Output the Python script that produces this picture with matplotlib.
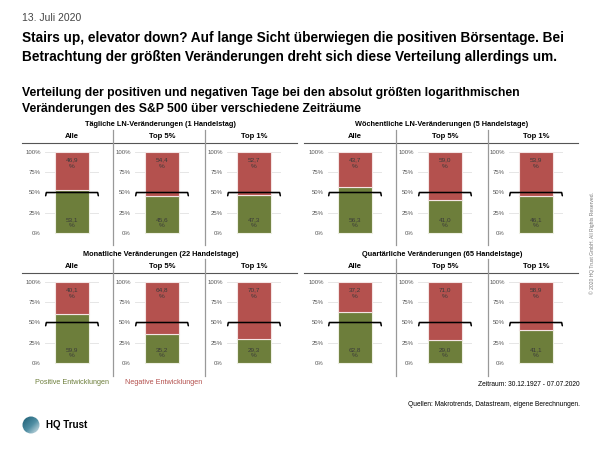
#!/usr/bin/env python3

import numpy as np
import matplotlib
matplotlib.use('Agg')
import matplotlib.pyplot as plt
from matplotlib.patches import Circle
from matplotlib.colors import LinearSegmentedColormap

plt.rcParams['font.family'] = ['Liberation Sans', 'DejaVu Sans']

groups = ['Tägliche LN-Veränderungen (1 Handelstag)',
          'Wöchentliche LN-Veränderungen (5 Handelstage)',
          'Monatliche Veränderungen (22 Handelstage)',
          'Quartärliche Veränderungen (65 Handelstage)']
columns = ['Alle', 'Top 5%', 'Top 1%']
positive = [[53.1, 45.6, 47.3],
            [56.3, 41.0, 46.1],
            [59.9, 35.2, 29.3],
            [62.8, 29.0, 41.1]]
negative = [[46.9, 54.4, 52.7],
            [43.7, 59.0, 53.9],
            [40.1, 64.8, 70.7],
            [37.2, 71.0, 58.9]]
yticks = [0, 25, 50, 75, 100]

GREEN = '#6d7e3b'
RED = '#b4514e'
W, H = 600, 450

fig = plt.figure(figsize=(6, 4.5), dpi=100)
bg = fig.add_axes([0, 0, 1, 1])
bg.set_xlim(0, W)
bg.set_ylim(H, 0)
bg.axis('off')

def fmt(v):
    return ('%.1f' % v).replace('.', ',')

# header texts
bg.text(22, 18, '13. Juli 2020', fontsize=7.5, color='#444444', va='center')
bg.text(22, 38, 'Stairs up, elevator down? Auf lange Sicht überwiegen die positiven Börsentage. Bei',
        fontsize=9.8, fontweight='bold', va='center')
bg.text(22, 57, 'Betrachtung der größten Veränderungen dreht sich diese Verteilung allerdings um.',
        fontsize=9.8, fontweight='bold', va='center')
bg.text(22, 93, 'Verteilung der positiven und negativen Tage bei den absolut größten logarithmischen',
        fontsize=8.8, fontweight='bold', va='center')
bg.text(22, 109, 'Veränderungen des S&P 500 über verschiedene Zeiträume',
        fontsize=8.8, fontweight='bold', va='center')

# panel geometry in pixels
group_left = [22, 304]
group_right = [297, 578]
col_centers = [[72, 162, 254], [355, 445, 536]]
separators = [[113, 205], [396, 488]]
row_top = [152, 282]       # pixel y of 100%
row_bottom = [233, 363]    # pixel y of 0%
title_y = [124, 254]
head_y = [137, 267]
hline_y = [143, 273]
sep_span = [(130, 245), (259, 376)]

for g, name in enumerate(groups):
    r, c = divmod(g, 2)
    bg.text((group_left[c] + group_right[c]) / 2 + 1, title_y[r], name,
            fontsize=5.3, fontweight='bold', ha='center', va='center')
    bg.plot([group_left[c], group_right[c]], [hline_y[r]] * 2, color='#555555', lw=0.8)
    for sx in separators[c]:
        bg.plot([sx, sx], sep_span[r], color='#999999', lw=0.9)
    for k, col in enumerate(columns):
        cx = col_centers[c][k]
        bg.text(cx, head_y[r], col, fontsize=5.5, fontweight='bold', ha='center', va='center')
        left = cx - 27
        ax = fig.add_axes([left / W, 1 - row_bottom[r] / H, 54 / W,
                           (row_bottom[r] - row_top[r]) / H])
        ax.set_xlim(-0.8, 0.8)
        ax.set_ylim(0, 100)
        ax.patch.set_alpha(0)
        for s in ax.spines.values():
            s.set_visible(False)
        for t in yticks[1:]:
            ax.axhline(t, color='#e6e6e6', lw=0.7, zorder=0)
        pos = positive[g][k]
        neg = negative[g][k]
        ax.bar(0, pos, width=1.0, color=GREEN, edgecolor='#eef0e4', lw=0.8,
               zorder=2, clip_on=False)
        ax.bar(0, neg, width=1.0, bottom=pos, color=RED, edgecolor='#f4e4e4',
               lw=0.8, zorder=2, clip_on=False)
        ax.text(0, 86, fmt(neg) + '\n%', fontsize=4.6, color='#3a3a3a',
                ha='center', va='center', linespacing=1.3, zorder=3)
        ax.text(0, 13, fmt(pos) + '\n%', fontsize=4.6, color='#3a3a3a',
                ha='center', va='center', linespacing=1.3, zorder=3)
        # bracket at 50 %
        ax.plot([-0.78, -0.76, 0.76, 0.78], [46, 50, 50, 46], color='black',
                lw=1.1, zorder=4, clip_on=False, solid_capstyle='round')
        ax.set_xticks([])
        ax.set_yticks(yticks)
        ax.set_yticklabels(['%d%%' % t for t in yticks], fontsize=4.3, color='#555555')
        ax.tick_params(axis='y', length=0, pad=3)

# legend and footnotes
bg.text(35, 383, 'Positive Entwicklungen', fontsize=5.2, color=GREEN, va='center')
bg.text(125, 383, 'Negative Entwicklungen', fontsize=5.2, color=RED, va='center')
bg.text(580, 384, 'Zeitraum: 30.12.1927 - 07.07.2020', fontsize=4.8, ha='right', va='center')
bg.text(580, 405, 'Quellen: Makrotrends, Datastream, eigene Berechnungen.',
        fontsize=4.8, ha='right', va='center')
bg.text(592, 243, '© 2020 HQ Trust GmbH. All Rights Reserved.', fontsize=3.6,
        color='#777777', rotation=90, ha='center', va='center')

# logo
logo_cmap = LinearSegmentedColormap.from_list('hq', ['#17586e', '#4f8ea3', '#ffffff'])
yy, xx = np.mgrid[0:60, 0:60]
img = (xx + yy) / 118.0
im = bg.imshow(img, extent=[22, 42, 435, 415], cmap=logo_cmap, vmin=0, vmax=1,
               interpolation='bilinear', zorder=1)
circ = Circle((31, 425), 8.5, transform=bg.transData)
im.set_clip_path(circ)
bg.text(46, 425, 'HQ Trust', fontsize=7, fontweight='bold', va='center')
bg.set_xlim(0, W)
bg.set_ylim(H, 0)

fig.savefig('out.png', dpi=100)
